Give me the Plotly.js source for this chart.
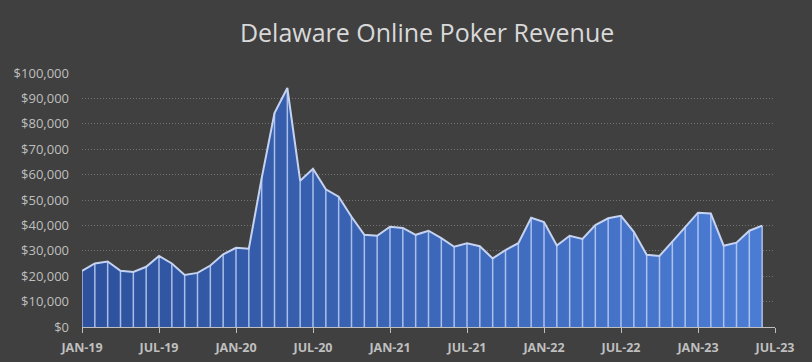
<!DOCTYPE html>
<html>
<head>
<meta charset="utf-8">
<script src="https://cdn.plot.ly/plotly-3.0.1.min.js"></script>
<style>html,body{margin:0;padding:0;background:#404040;}#chart{width:812px;height:362px;}</style>
</head>
<body>
<div id="chart"></div>
<script>
// Monthly revenue, JAN-19 .. JUN-23 (month index 0..53)
var monthIndex = [];
for (var i = 0; i < 54; i++) monthIndex.push(i);
var revenue = [
  22100, 25000, 25800, 22100, 21700, 23700, 28000, 25000, 20500, 21300, 24200, 28600,
  31200, 30800, 58600, 84200, 94100, 57600, 62300, 54200, 51300, 43400, 36300, 35900,
  39500, 39000, 36300, 37900, 35000, 31600, 33000, 31800, 27000, 30300, 33000, 43000,
  41300, 32100, 35900, 34700, 40100, 42800, 43800, 37500, 28400, 28000, 33600, 39500,
  45000, 44700, 32000, 33200, 37900, 39900
];
var tickPositions = [0, 6, 12, 18, 24, 30, 36, 42, 48, 54];
var tickLabels = ['JAN-19','JUL-19','JAN-20','JUL-20','JAN-21','JUL-21','JAN-22','JUL-22','JAN-23','JUL-23'];
var yTicks = [0,10000,20000,30000,40000,50000,60000,70000,80000,90000,100000];
var yLabels = yTicks.map(function(v){ return '$' + v.toLocaleString('en-US'); });

var zeros = revenue.map(function(){ return 0; });

var area = {
  x: monthIndex, y: revenue, type: 'scatter', mode: 'lines',
  fill: 'tozeroy',
  fillgradient: {type: 'horizontal', colorscale: [[0, '#2d519c'], [1, '#4b7cd4']]},
  line: {color: '#c6d3f0', width: 2},
  error_y: {type: 'data', symmetric: false, array: zeros, arrayminus: revenue,
            color: 'rgba(190,208,245,0.85)', thickness: 1.5, width: 0},
  hoverinfo: 'skip', showlegend: false
};

var layout = {
  width: 812, height: 362,
  paper_bgcolor: '#404040', plot_bgcolor: '#404040',
  margin: {l: 82, r: 37, t: 73, b: 35},
  title: {text: 'Delaware Online Poker Revenue', x: 0.526, xanchor: 'center', y: 0.907, yanchor: 'middle',
          font: {family: 'Open Sans, sans-serif', size: 25, color: '#d9d9d9'}},
  xaxis: {
    range: [0, 54], tickmode: 'array', tickvals: tickPositions, ticktext: tickLabels,
    showgrid: false, zeroline: false,
    showline: true, linecolor: '#bfbfbf', linewidth: 1,
    ticks: 'outside', ticklen: 5, tickcolor: '#bfbfbf', tickwidth: 1,
    ticklabelstandoff: 4,
    tickfont: {family: 'Open Sans, sans-serif', size: 12.5, color: '#bfbfbf', weight: 'bold'}
  },
  yaxis: {
    range: [0, 100000], tickmode: 'array', tickvals: yTicks, ticktext: yLabels,
    showgrid: true, gridcolor: '#727272', griddash: '1px,2px', gridwidth: 1,
    zeroline: false, showline: false, ticks: '', ticklen: 0,
    ticklabelstandoff: 12,
    tickfont: {family: 'Open Sans, sans-serif', size: 13, color: '#bfbfbf'}
  }
};

Plotly.newPlot('chart', [area], layout, {displayModeBar: false, staticPlot: true});
</script>
</body>
</html>
